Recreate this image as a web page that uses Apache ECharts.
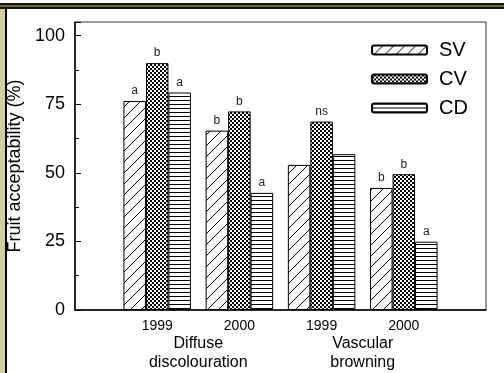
<!DOCTYPE html>
<html>
<head>
<meta charset="utf-8">
<script src="https://cdn.jsdelivr.net/npm/echarts@6/dist/echarts.min.js"></script>
<style>
  html, body { margin: 0; padding: 0; background: #fff; }
  #chart { width: 504px; height: 373px; }
</style>
</head>
<body>
<div id="chart"></div>
<script>
// x轴: 每组的位置 (1..4) 和年份
const positions = [1, 2, 3, 4];
const years = ['1999', '2000', '1999', '2000'];
// 分组名称, 放在两个年份之间
const groupPositions = [1.5, 3.5];
const groupNames = ['Diffuse\ndiscolouration', 'Vascular\nbrowning'];
const seriesNames = ['SV', 'CV', 'CD'];

// 数值 (%)
const svData = [76.2, 65.4, 52.9, 44.5];
const cvData = [90.0, 72.4, 68.7, 49.5];
const cdData = [79.3, 42.7, 56.8, 24.9];

// 显著性字母
const svLetters = ['a', 'b', '', 'b'];
const cvLetters = ['b', 'b', 'ns', 'b'];
const cdLetters = ['a', 'a', '', 'a'];

const xMin = 0;
const xMax = 5;
const yMin = 0;
const yMax = 105;
const yStep = 25;

const FONT = 'Liberation Sans, Arial, sans-serif';

// 填充图案
function makePattern(w, h, draw) {
    const c = document.createElement('canvas');
    c.width = w;
    c.height = h;
    const ctx = c.getContext('2d');
    ctx.fillStyle = '#fff';
    ctx.fillRect(0, 0, w, h);
    draw(ctx, w, h);
    return { image: c, repeat: 'repeat' };
}

const hatch = makePattern(11, 11, (ctx, w, h) => {
    ctx.strokeStyle = '#000';
    ctx.lineWidth = 1;
    ctx.beginPath();
    ctx.moveTo(-1, h + 1);
    ctx.lineTo(w + 1, -1);
    ctx.stroke();
});
const checker = makePattern(4, 4, (ctx) => {
    ctx.fillStyle = '#000';
    ctx.fillRect(0, 0, 4, 4);
    ctx.fillStyle = '#fff';
    ctx.fillRect(0, 0, 2, 2);
    ctx.fillRect(2, 2, 2, 2);
});
const hlines = makePattern(4, 4, (ctx) => {
    ctx.fillStyle = '#000';
    ctx.fillRect(0, 0, 4, 1);
});

function barSeries(name, values, fill, letters) {
    return {
        name: name,
        type: 'bar',
        xAxisIndex: 0,
        yAxisIndex: 0,
        data: values.map((v, i) => [positions[i], v]),
        barWidth: 22.5,
        barGap: '0%',
        itemStyle: { color: fill, borderColor: '#000', borderWidth: 1 },
        label: {
            show: true,
            position: 'top',
            distance: 4,
            fontSize: 12,
            fontFamily: FONT,
            color: '#222',
            formatter: p => letters[p.dataIndex]
        }
    };
}

const chart = echarts.init(document.getElementById('chart'), null, { renderer: 'canvas' });
chart.setOption({
    animation: false,
    backgroundColor: '#fff',
    textStyle: { fontFamily: FONT },
    grid: {
        left: 75, right: 18, top: 22, bottom: 63,
        show: true, borderColor: '#333', borderWidth: 1,
        containLabel: false, outerBoundsMode: 'none'
    },
    legend: {
        orient: 'vertical',
        left: 371,
        top: 40,
        padding: 0,
        itemWidth: 55,
        itemHeight: 9,
        itemGap: 9,
        data: seriesNames,
        textStyle: { fontSize: 20, color: '#000', fontFamily: FONT, padding: [0, 0, 0, 7] }
    },
    xAxis: [
        {
            type: 'value',
            min: xMin,
            max: xMax,
            interval: 1,
            axisLine: { show: true, lineStyle: { color: '#000', width: 1.5 } },
            axisTick: { show: false },
            axisLabel: {
                fontSize: 14, color: '#000', margin: 9, fontFamily: FONT,
                showMinLabel: true, showMaxLabel: true,
                formatter: v => {
                    const i = positions.indexOf(v);
                    return i >= 0 ? years[i] : '';
                }
            },
            splitLine: { show: false }
        },
        {
            type: 'value',
            min: xMin,
            max: xMax,
            interval: 0.5,
            position: 'bottom',
            axisLine: { show: false },
            axisTick: { show: false },
            axisLabel: {
                fontSize: 16, lineHeight: 19, color: '#000', margin: 24, fontFamily: FONT,
                formatter: v => {
                    const i = groupPositions.indexOf(v);
                    return i >= 0 ? groupNames[i] : '';
                }
            },
            splitLine: { show: false }
        }
    ],
    yAxis: [
        {
            type: 'value',
            min: yMin,
            max: yMax,
            interval: yStep,
            name: 'Fruit acceptability (%)',
            nameLocation: 'middle',
            nameGap: 48,
            nameTextStyle: { fontSize: 18, color: '#000', fontFamily: FONT },
            axisLine: { show: true, lineStyle: { color: '#000', width: 1.5 } },
            axisTick: { show: true, inside: true, length: 6, lineStyle: { color: '#000' } },
            axisLabel: {
                fontSize: 18, color: '#000', margin: 10, fontFamily: FONT,
                formatter: v => (v % yStep === 0 ? String(v) : '')
            },
            splitLine: { show: false }
        },
        {
            type: 'value',
            min: yMin,
            max: yMax,
            interval: yStep / 2,
            position: 'left',
            axisLine: { show: false },
            axisTick: { show: true, inside: true, length: 4, lineStyle: { color: '#000' } },
            axisLabel: { show: false },
            splitLine: { show: false }
        }
    ],
    series: [
        barSeries('SV', svData, hatch, svLetters),
        barSeries('CV', cvData, checker, cvLetters),
        barSeries('CD', cdData, hlines, cdLetters)
    ],
    graphic: [
        // 外框
        { type: 'rect', shape: { x: 0, y: 3, width: 504, height: 2 }, style: { fill: '#111' }, silent: true },
        { type: 'rect', shape: { x: 0, y: 5, width: 504, height: 2 }, style: { fill: '#6b6b2a' }, silent: true },
        { type: 'rect', shape: { x: 0, y: 7, width: 504, height: 2 }, style: { fill: '#111' }, silent: true },
        { type: 'rect', shape: { x: 0, y: 9, width: 5, height: 364 }, style: { fill: '#d2cf9c' }, silent: true },
        { type: 'rect', shape: { x: 5, y: 9, width: 2, height: 364 }, style: { fill: '#000' }, silent: true }
    ]
});
</script>
</body>
</html>
